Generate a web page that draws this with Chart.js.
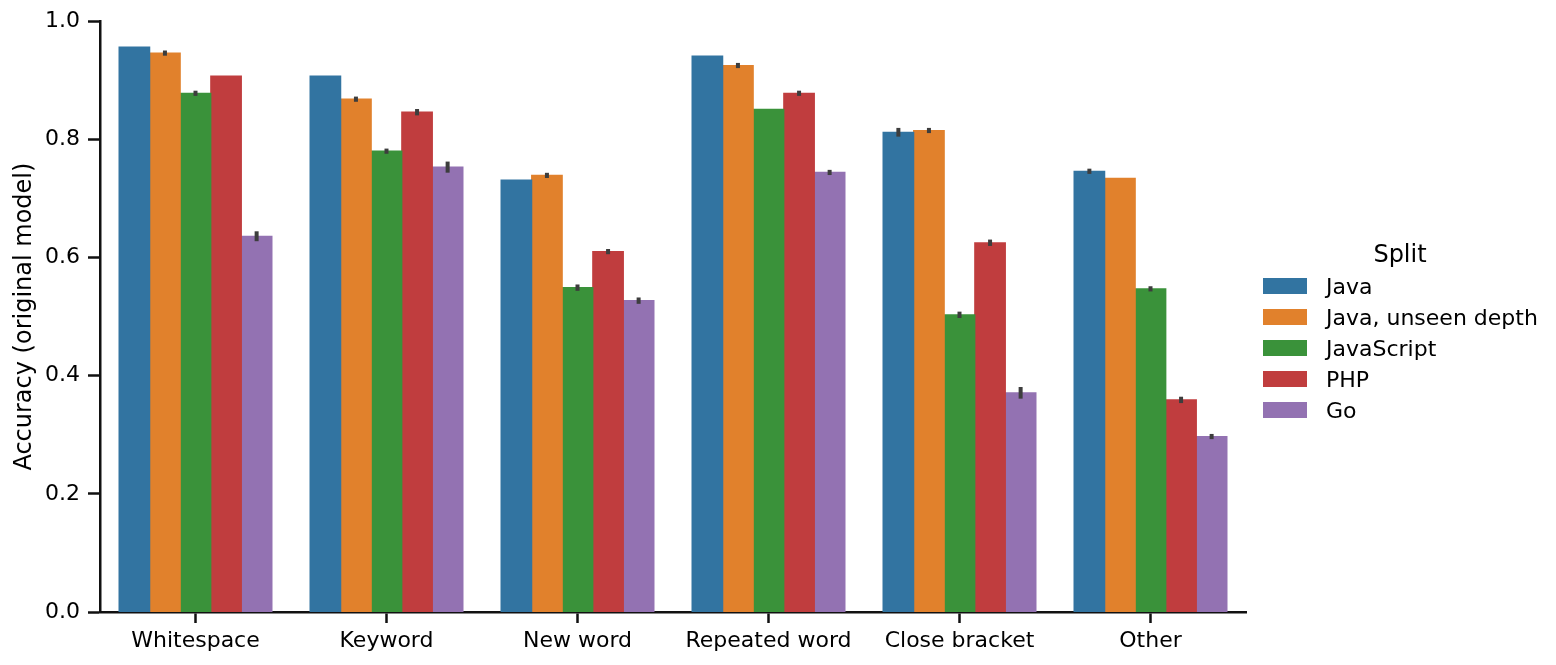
<!DOCTYPE html>
<html>
<head>
<meta charset="utf-8">
<script src="https://cdn.jsdelivr.net/npm/chart.js@4/dist/chart.umd.min.js"></script>
<style>
  html, body { margin: 0; padding: 0; background: #fff; }
  #wrap { position: relative; width: 1556px; height: 665px; font-family: "DejaVu Sans", sans-serif; color: #000; }
  #c { position: absolute; left: 0; top: 0; }
  .lg-title { position: absolute; font-size: 24px; line-height: 24px; white-space: nowrap; }
  .lg-row { position: absolute; height: 22px; font-size: 22px; line-height: 22px; white-space: nowrap; }
  .lg-box { position: absolute; left: 0; width: 44px; height: 15.5px; top: 2.5px; }
  .lg-text { position: absolute; left: 63px; top: 0; }
</style>
</head>
<body>
<div id="wrap">
  <canvas id="c" width="1556" height="665"></canvas>
  <div id="legend"></div>
</div>
<script>
// ---- Data ----
const categories = ["Whitespace", "Keyword", "New word", "Repeated word", "Close bracket", "Other"];
const seriesNames = ["Java", "Java, unseen depth", "JavaScript", "PHP", "Go"];
const seriesColors = ["#3274a1", "#e1812c", "#3a923a", "#c03d3e", "#9372b2"];

const java        = [0.956, 0.907, 0.731, 0.941, 0.812, 0.746];
const javaUnseen  = [0.946, 0.868, 0.739, 0.925, 0.815, 0.734];
const javascript  = [0.878, 0.780, 0.549, 0.851, 0.503, 0.547];
const php         = [0.907, 0.846, 0.610, 0.878, 0.625, 0.359];
const go          = [0.636, 0.753, 0.527, 0.744, 0.371, 0.297];

// confidence interval half-widths (null = no error bar shown)
const javaErr       = [null, null, null, null, 0.004, 0.001];
const javaUnseenErr = [0.001, 0.001, 0.001, 0.001, 0.001, null];
const javascriptErr = [0.001, 0.001, 0.002, null, 0.002, 0.001];
const phpErr        = [null, 0.002, 0.001, 0.001, 0.002, 0.002];
const goErr         = [0.005, 0.006, 0.002, 0.001, 0.0065, 0.001];

const yTicks = [0.0, 0.2, 0.4, 0.6, 0.8, 1.0];

const seriesValues = [java, javaUnseen, javascript, php, go];
const seriesErrs = [javaErr, javaUnseenErr, javascriptErr, phpErr, goErr];

const TEXT = "#000000";
const AXIS = "#111111";
const FONT = "DejaVu Sans";

const errorBarPlugin = {
  id: "errorBars",
  afterDatasetsDraw(chart) {
    const ctx = chart.ctx;
    const yScale = chart.scales.y;
    ctx.save();
    ctx.strokeStyle = "#3d3d3d";
    ctx.lineWidth = 4;
    ctx.lineCap = "square";
    chart.data.datasets.forEach((ds, i) => {
      const meta = chart.getDatasetMeta(i);
      const errs = seriesErrs[i];
      meta.data.forEach((el, j) => {
        const e = errs[j];
        if (e === null || e === undefined) return;
        const v = ds.data[j];
        const y1 = yScale.getPixelForValue(v + e);
        const y2 = yScale.getPixelForValue(v - e);
        ctx.beginPath();
        ctx.moveTo(el.x, y1);
        ctx.lineTo(el.x, y2);
        ctx.stroke();
      });
    });
    ctx.restore();
  }
};

new Chart(document.getElementById("c"), {
  type: "bar",
  data: {
    labels: categories,
    datasets: seriesNames.map((name, i) => ({
      label: name,
      data: seriesValues[i],
      backgroundColor: seriesColors[i],
      borderWidth: 0,
      inflateAmount: 0.6,
      categoryPercentage: 0.8,
      barPercentage: 1.0
    }))
  },
  options: {
    responsive: false,
    devicePixelRatio: 1,
    animation: false,
    layout: { padding: { top: 21, right: 310, bottom: 0, left: 0 } },
    plugins: {
      legend: { display: false },
      tooltip: { enabled: false }
    },
    scales: {
      x: {
        type: "category",
        offset: true,
        grid: {
          offset: false,
          drawOnChartArea: false,
          drawTicks: true,
          tickLength: 11,
          tickWidth: 2.5,
          tickColor: AXIS
        },
        border: { display: true, color: AXIS, width: 2.5 },
        ticks: {
          color: TEXT,
          font: { family: FONT, size: 22 },
          padding: 5,
          maxRotation: 0,
          autoSkip: false
        },
        afterFit(scale) { scale.height = 53; }
      },
      y: {
        min: 0,
        max: 1,
        afterBuildTicks(scale) { scale.ticks = yTicks.map(v => ({ value: v })); },
        grid: {
          drawOnChartArea: false,
          drawTicks: true,
          tickLength: 12,
          tickWidth: 2.5,
          tickColor: AXIS
        },
        border: { display: true, color: AXIS, width: 2.5 },
        ticks: {
          color: TEXT,
          font: { family: FONT, size: 22 },
          padding: 8,
          callback: (v) => Number(v).toFixed(1)
        },
        title: {
          display: true,
          text: "Accuracy (original model)",
          color: TEXT,
          font: { family: FONT, size: 24 },
          padding: { top: 10, bottom: 0 }
        },
        afterFit(scale) { scale.width = 100; }
      }
    }
  },
  plugins: [errorBarPlugin]
});

// ---- HTML legend ----
const legend = document.getElementById("legend");
const title = document.createElement("div");
title.className = "lg-title";
title.textContent = "Split";
title.style.top = "241.5px";
title.style.left = "1400px";
title.style.transform = "translateX(-50%)";
legend.appendChild(title);
seriesNames.forEach((name, i) => {
  const row = document.createElement("div");
  row.className = "lg-row";
  row.style.left = "1263px";
  row.style.top = (275.5 + 31 * i) + "px";
  const box = document.createElement("div");
  box.className = "lg-box";
  box.style.background = seriesColors[i];
  const txt = document.createElement("div");
  txt.className = "lg-text";
  txt.textContent = name;
  row.appendChild(box);
  row.appendChild(txt);
  legend.appendChild(row);
});
</script>
</body>
</html>
